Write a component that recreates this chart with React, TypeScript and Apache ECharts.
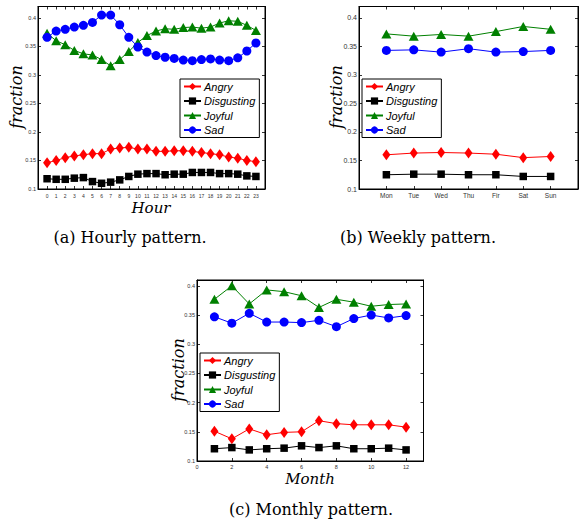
import React, { useEffect, useRef } from 'react';
import * as echarts from 'echarts';

const seriesNames = ['Angry', 'Disgusting', 'Joyful', 'Sad'];

const hours = [0, 1, 2, 3, 4, 5, 6, 7, 8, 9, 10, 11, 12, 13, 14, 15, 16, 17, 18, 19, 20, 21, 22, 23];
const hourlyAngry = [0.146, 0.150, 0.155, 0.158, 0.160, 0.162, 0.162, 0.170, 0.172, 0.173, 0.170, 0.170, 0.166, 0.166, 0.167, 0.167, 0.166, 0.164, 0.162, 0.160, 0.156, 0.154, 0.150, 0.148];
const hourlyDisgusting = [0.118, 0.117, 0.117, 0.119, 0.120, 0.113, 0.110, 0.112, 0.116, 0.122, 0.126, 0.127, 0.127, 0.125, 0.126, 0.126, 0.129, 0.129, 0.129, 0.127, 0.127, 0.126, 0.123, 0.122];
const hourlyJoyful = [0.373, 0.360, 0.353, 0.343, 0.337, 0.335, 0.327, 0.316, 0.327, 0.341, 0.357, 0.369, 0.377, 0.381, 0.380, 0.383, 0.384, 0.382, 0.384, 0.391, 0.395, 0.394, 0.387, 0.378];
const hourlySad = [0.366, 0.377, 0.380, 0.384, 0.387, 0.392, 0.405, 0.405, 0.388, 0.366, 0.349, 0.340, 0.334, 0.331, 0.329, 0.326, 0.325, 0.327, 0.328, 0.326, 0.325, 0.330, 0.342, 0.356];

const days = ['Mon', 'Tue', 'Wed', 'Thu', 'Fir', 'Sat', 'Sun'];
const weeklyAngry = [0.160, 0.163, 0.164, 0.163, 0.161, 0.155, 0.157];
const weeklyDisgusting = [0.125, 0.126, 0.126, 0.125, 0.125, 0.122, 0.122];
const weeklyJoyful = [0.372, 0.368, 0.371, 0.368, 0.376, 0.385, 0.380];
const weeklySad = [0.343, 0.344, 0.340, 0.346, 0.340, 0.341, 0.343];

const months = [1, 2, 3, 4, 5, 6, 7, 8, 9, 10, 11, 12];
const monthlyAngry = [0.151, 0.138, 0.155, 0.145, 0.149, 0.150, 0.169, 0.164, 0.162, 0.162, 0.162, 0.158];
const monthlyDisgusting = [0.121, 0.123, 0.119, 0.121, 0.122, 0.126, 0.123, 0.126, 0.121, 0.121, 0.122, 0.119];
const monthlyJoyful = [0.377, 0.400, 0.369, 0.393, 0.390, 0.383, 0.363, 0.377, 0.372, 0.365, 0.368, 0.369];
const monthlySad = [0.347, 0.336, 0.353, 0.338, 0.338, 0.337, 0.341, 0.330, 0.344, 0.350, 0.345, 0.349];

const captions = ['(a) Hourly pattern.', '(b) Weekly pattern.', '(c) Monthly pattern.'];

const styleOf: Record<string, any> = {
  Angry: { color: '#ff0000', symbol: 'diamond', symbolSize: [8, 11] },
  Disgusting: { color: '#000000', symbol: 'rect', symbolSize: 7.5 },
  Joyful: { color: '#008000', symbol: 'triangle', symbolSize: [10, 9] },
  Sad: { color: '#0000ff', symbol: 'circle', symbolSize: 9 },
};

function makeSeries(gridIdx: number, xs: number[], sets: number[][]) {
  return seriesNames.map((name, k) => {
    const st = styleOf[name];
    return {
      type: 'line',
      name,
      xAxisIndex: gridIdx,
      yAxisIndex: gridIdx,
      data: xs.map((x, i) => [x, sets[k][i]]),
      symbol: st.symbol,
      symbolSize: st.symbolSize,
      showAllSymbol: true,
      lineStyle: { color: st.color, width: 1 },
      itemStyle: { color: st.color, borderWidth: 0 },
      emphasis: { disabled: true },
    };
  });
}

const tickFont = 'Liberation Sans';

export default function App() {
  const ref = useRef<HTMLDivElement>(null);
  useEffect(() => {
    if (!ref.current) return;
    const chart = echarts.init(ref.current, undefined, { renderer: 'svg' });

    const grids = [
      { left: 38, top: 6.5, width: 227, height: 182.5 },
      { left: 359, top: 6.5, width: 223, height: 182.5 },
      { left: 197, top: 280, width: 226.5, height: 181 },
    ];
    const xCfg = [
      { min: -1, max: 24, interval: 1, fmt: (v: number) => (v >= 0 && v <= 23 ? String(v) : ''), fs: 5, margin: 4 },
      { min: 0, max: 8, interval: 1, fmt: (v: number) => (v >= 1 && v <= 7 ? days[v - 1] : ''), fs: 6.5, margin: 3 },
      { min: 0, max: 13, interval: 2, fmt: (v: number) => (v <= 12 ? String(v) : ''), fs: 5.5, margin: 3 },
    ];
    const yCfg = [
      { max: 0.42, fs: 5.5 },
      { max: 0.42, fs: 7 },
      { max: 0.41, fs: 5.5 },
    ];
    const yFmt = (v: number) => (v > 0.4001 ? '' : String(Math.round(v * 100) / 100));

    const xAxis: any[] = [];
    const yAxis: any[] = [];
    for (let pass = 0; pass < 2; pass++) {
      grids.forEach((_, g) => {
        const c = xCfg[g];
        xAxis.push({
          type: 'value',
          gridIndex: g,
          position: pass === 0 ? 'bottom' : 'top',
          min: c.min,
          max: c.max,
          interval: c.interval,
          axisLine: { show: true, onZero: false, lineStyle: { color: '#000', width: 1 } },
          axisTick: { show: true, inside: true, length: 3, lineStyle: { color: '#000', width: 0.8 } },
          axisLabel: { show: pass === 0, formatter: c.fmt, fontSize: c.fs, fontFamily: tickFont, color: '#333', margin: c.margin },
          splitLine: { show: false },
        });
        const yc = yCfg[g];
        yAxis.push({
          type: 'value',
          gridIndex: g,
          position: pass === 0 ? 'left' : 'right',
          min: 0.1,
          max: yc.max,
          interval: 0.05,
          axisLine: { show: true, onZero: false, lineStyle: { color: '#000', width: 1 } },
          axisTick: { show: true, inside: true, length: 3, lineStyle: { color: '#000', width: 0.8 } },
          axisLabel: { show: pass === 0, formatter: yFmt, fontSize: yc.fs, fontFamily: tickFont, color: '#333', margin: 2 },
          splitLine: { show: false },
        });
      });
    }

    const series = [
      ...makeSeries(0, hours, [hourlyAngry, hourlyDisgusting, hourlyJoyful, hourlySad]),
      ...makeSeries(1, days.map((_, i) => i + 1), [weeklyAngry, weeklyDisgusting, weeklyJoyful, weeklySad]),
      ...makeSeries(2, months, [monthlyAngry, monthlyDisgusting, monthlyJoyful, monthlySad]),
    ];

    const legendPos = [
      { left: 180, top: 79 },
      { left: 362, top: 79 },
      { left: 200, top: 353 },
    ];
    const legend = legendPos.map((p) => ({
      ...p,
      orient: 'vertical',
      data: seriesNames,
      itemWidth: 17,
      itemHeight: 9,
      itemGap: 3.5,
      padding: [2, 4, 2, 3],
      borderColor: '#000',
      borderWidth: 1,
      backgroundColor: '#fff',
      selectedMode: false,
      textStyle: { fontStyle: 'italic', fontFamily: 'Liberation Sans', fontSize: 11, color: '#000', padding: [0, 0, 0, -2] },
    }));

    const serif = 'DejaVu Serif';
    const graphic: any[] = [
      { type: 'text', x: 130, y: 237, style: { text: captions[0], fontFamily: serif, fontSize: 16, fill: '#000', align: 'center', verticalAlign: 'middle' } },
      { type: 'text', x: 418, y: 237, style: { text: captions[1], fontFamily: serif, fontSize: 16, fill: '#000', align: 'center', verticalAlign: 'middle' } },
      { type: 'text', x: 311, y: 509, style: { text: captions[2], fontFamily: serif, fontSize: 16, fill: '#000', align: 'center', verticalAlign: 'middle' } },
      { type: 'text', x: 16, y: 97, rotation: Math.PI / 2, style: { text: 'fraction', fontFamily: serif, fontStyle: 'italic', fontSize: 16, fill: '#000', align: 'center', verticalAlign: 'middle' } },
      { type: 'text', x: 336, y: 97, rotation: Math.PI / 2, style: { text: 'fraction', fontFamily: serif, fontStyle: 'italic', fontSize: 16, fill: '#000', align: 'center', verticalAlign: 'middle' } },
      { type: 'text', x: 178, y: 370, rotation: Math.PI / 2, style: { text: 'fraction', fontFamily: serif, fontStyle: 'italic', fontSize: 16, fill: '#000', align: 'center', verticalAlign: 'middle' } },
      { type: 'text', x: 151, y: 207.5, style: { text: 'Hour', fontFamily: serif, fontStyle: 'italic', fontSize: 15, fill: '#000', align: 'center', verticalAlign: 'middle' } },
      { type: 'text', x: 310, y: 479, style: { text: 'Month', fontFamily: serif, fontStyle: 'italic', fontSize: 15, fill: '#000', align: 'center', verticalAlign: 'middle' } },
    ];

    chart.setOption({
      animation: false,
      backgroundColor: '#fff',
      grid: grids.map((g) => ({ ...g, show: true, borderColor: '#000', borderWidth: 1, backgroundColor: 'transparent', containLabel: false })),
      xAxis,
      yAxis,
      legend,
      series,
      graphic,
    });
    return () => chart.dispose();
  }, []);
  return <div ref={ref} style={{ position: 'absolute', left: 0, top: 0, width: 581, height: 519 }} />;
}
